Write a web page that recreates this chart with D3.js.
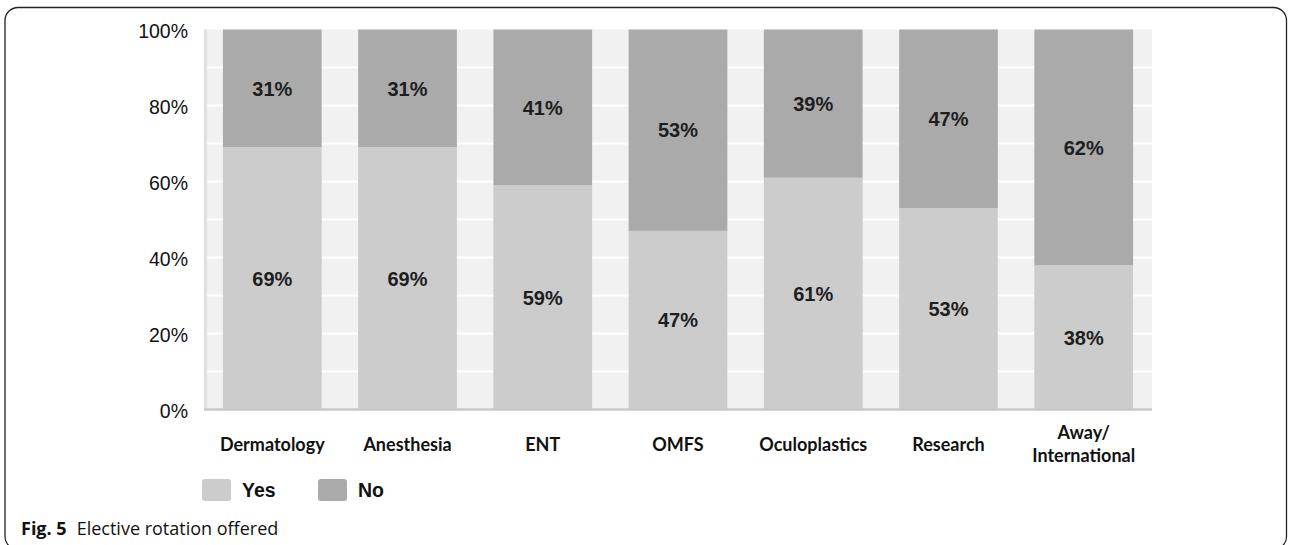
<!DOCTYPE html>
<html>
<head>
<meta charset="utf-8">
<script src="https://cdn.jsdelivr.net/npm/d3@7"></script>
<style>
  html, body { margin: 0; padding: 0; background: #ffffff; }
  svg { display: block; }
</style>
</head>
<body>
<svg id="chart" width="1290" height="545"></svg>
<script>
// Elective rotations: share of programs offering each (Yes / No)
const categories = ["Dermatology", "Anesthesia", "ENT", "OMFS", "Oculoplastics", "Research", "Away/\nInternational"];
const yesValues = [69, 69, 59, 47, 61, 53, 38];
const noValues  = [31, 31, 41, 53, 39, 47, 62];
const seriesNames = ["Yes", "No"];
const yTicks = [0, 20, 40, 60, 80, 100];
const gridTicks = [10, 20, 30, 40, 50, 60, 70, 80, 90];

const colors = { Yes: "#cccccc", No: "#aaaaaa" };

const svg = d3.select("#chart");

// figure frame
svg.append("rect")
  .attr("x", 5).attr("y", 7.5)
  .attr("width", 1281.5).attr("height", 542)
  .attr("rx", 13).attr("ry", 13)
  .attr("fill", "none")
  .attr("stroke", "#222")
  .attr("stroke-width", 1.3);

const plot = { left: 204, right: 1152, top: 29.5, bottom: 409.5 };

const x = d3.scaleBand()
  .domain(categories)
  .range([plot.left, plot.right])
  .paddingInner(0.27)
  .paddingOuter(0.14);

const y = d3.scaleLinear()
  .domain([0, 100])
  .range([plot.bottom, plot.top]);

// plot background
svg.append("rect")
  .attr("x", plot.left).attr("y", plot.top)
  .attr("width", plot.right - plot.left)
  .attr("height", plot.bottom - plot.top)
  .attr("fill", "#f1f1f1");

// horizontal white gridlines every 10%
svg.append("g")
  .selectAll("line")
  .data(gridTicks)
  .join("line")
  .attr("x1", plot.left).attr("x2", plot.right)
  .attr("y1", d => y(d)).attr("y2", d => y(d))
  .attr("stroke", "#ffffff")
  .attr("stroke-width", 2);

// left axis rule
svg.append("line")
  .attr("x1", plot.left + 1.5).attr("x2", plot.left + 1.5)
  .attr("y1", plot.top).attr("y2", plot.bottom)
  .attr("stroke", "#e0e0e0")
  .attr("stroke-width", 3);

// stacked data
const rows = categories.map((c, i) => ({ category: c, Yes: yesValues[i], No: noValues[i] }));
const stacked = d3.stack().keys(seriesNames)(rows);

const layers = svg.append("g")
  .selectAll("g")
  .data(stacked)
  .join("g")
  .attr("fill", d => colors[d.key]);

layers.selectAll("rect")
  .data(d => d)
  .join("rect")
  .attr("x", d => x(d.data.category))
  .attr("width", x.bandwidth())
  .attr("y", d => y(d[1]))
  .attr("height", d => y(d[0]) - y(d[1]));

// value labels centred in each segment
const labels = svg.append("g")
  .attr("font-family", "'Liberation Sans', Arial, sans-serif")
  .attr("font-weight", "bold")
  .attr("font-size", 20)
  .attr("fill", "#1e1e1e")
  .attr("text-anchor", "middle");

stacked.forEach(layer => {
  labels.selectAll(null)
    .data(layer)
    .join("text")
    .attr("x", d => x(d.data.category) + x.bandwidth() / 2)
    .attr("y", d => (y(d[0]) + y(d[1])) / 2)
    .attr("dy", "0.36em")
    .text(d => (d[1] - d[0]) + "%");
});

// bottom axis rule
svg.append("line")
  .attr("x1", plot.left).attr("x2", plot.right)
  .attr("y1", plot.bottom).attr("y2", plot.bottom)
  .attr("stroke", "#c8c8c8")
  .attr("stroke-width", 2.5);

// y axis labels
const yAxis = d3.axisLeft(y)
  .tickValues(yTicks)
  .tickFormat(d => d + "%")
  .tickSize(0)
  .tickPadding(16);

const yg = svg.append("g")
  .attr("transform", `translate(${plot.left},0)`)
  .call(yAxis);
yg.select(".domain").remove();
yg.selectAll("text")
  .attr("font-family", "'Liberation Sans', Arial, sans-serif")
  .attr("font-size", 19.5)
  .attr("fill", "#111")
  .attr("dy", "0.42em");

// category labels
const xg = svg.append("g")
  .attr("font-family", "Lato, 'Open Sans', sans-serif")
  .attr("font-weight", "bold")
  .attr("font-size", 18)
  .attr("fill", "#111")
  .attr("text-anchor", "middle");

xg.selectAll("text")
  .data(categories)
  .join("text")
  .attr("x", d => x(d) + x.bandwidth() / 2)
  .attr("y", d => d.includes("\n") ? 433 : 445)
  .each(function(d) {
    const lines = d.split("\n");
    d3.select(this).selectAll("tspan")
      .data(lines)
      .join("tspan")
      .attr("x", x(d) + x.bandwidth() / 2)
      .attr("dy", (l, i) => i === 0 ? "0.35em" : "23px")
      .text(l => l);
  });

// legend
const legend = svg.append("g")
  .attr("font-family", "'Liberation Sans', Arial, sans-serif")
  .attr("font-weight", "bold")
  .attr("font-size", 19.5)
  .attr("fill", "#111");

const legendX = [202, 318];
seriesNames.forEach((name, i) => {
  legend.append("rect")
    .attr("x", legendX[i]).attr("y", 479)
    .attr("width", 29).attr("height", 22)
    .attr("rx", 3)
    .attr("fill", colors[name]);
  legend.append("text")
    .attr("x", legendX[i] + 40).attr("y", 490)
    .attr("dy", "0.36em")
    .text(name);
});

// caption
const caption = svg.append("text")
  .attr("x", 21).attr("y", 529)
  .attr("dy", "0.35em")
  .attr("font-family", "'Open Sans', 'Noto Sans', sans-serif")
  .attr("font-size", 18)
  .attr("fill", "#111");
caption.append("tspan").attr("font-weight", "bold").text("Fig. 5");
caption.append("tspan").attr("dx", 10).text("Elective rotation offered");
</script>
</body>
</html>
